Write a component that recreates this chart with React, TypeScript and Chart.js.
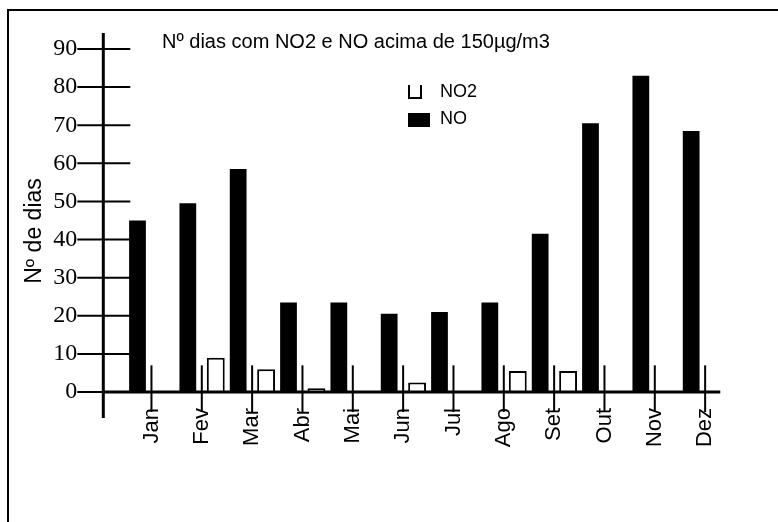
import { useEffect, useRef } from 'react';
import { Chart, registerables } from 'chart.js';

Chart.register(...registerables);

const months = ['Jan', 'Fev', 'Mar', 'Abr', 'Mai', 'Jun', 'Jul', 'Ago', 'Set', 'Out', 'Nov', 'Dez'];
const noDays = [45, 49.5, 58.5, 23.5, 23.5, 20.5, 21, 23.5, 41.5, 70.5, 83, 68.5];
const no2Days = [0, 9, 6, 1, 0, 2.5, 0, 5.5, 5.5, 0, 0, 0];
const yTickValues = [0, 10, 20, 30, 40, 50, 60, 70, 80, 90];
const chartTitle = 'Nº dias com NO2 e NO acima de 150µg/m3';
const yAxisTitle = 'Nº de dias';

const SANS = '"Liberation Sans", Arial, Helvetica, sans-serif';
const SERIF = '"Liberation Serif", "Times New Roman", serif';

const decorPlugin = {
  id: 'decor',
  afterDatasetsDraw(chart: any) {
    const { ctx, chartArea } = chart;
    const x = chart.scales.x;
    const y = chart.scales.y;
    ctx.save();
    ctx.strokeStyle = '#000';
    ctx.fillStyle = '#000';
    ctx.lineCap = 'butt';

    // outer frame (runs off the page at right and bottom)
    ctx.lineWidth = 2;
    ctx.beginPath();
    ctx.moveTo(8, 540);
    ctx.lineTo(8, 10);
    ctx.lineTo(800, 10);
    ctx.stroke();

    const axisX = chartArea.left - 23;
    const y0 = y.getPixelForValue(0);

    // y axis line
    ctx.lineWidth = 3;
    ctx.beginPath();
    ctx.moveTo(axisX, y.getPixelForValue(90) - 16);
    ctx.lineTo(axisX, y0 + 26);
    ctx.stroke();

    // x axis line
    ctx.beginPath();
    ctx.moveTo(axisX, y0);
    ctx.lineTo(chartArea.right - 10, y0);
    ctx.stroke();

    // y ticks crossing the axis
    ctx.lineWidth = 2;
    yTickValues.forEach((v) => {
      const py = y.getPixelForValue(v);
      ctx.beginPath();
      ctx.moveTo(axisX - 26, py);
      ctx.lineTo(axisX + 27, py);
      ctx.stroke();
    });

    // x ticks crossing the axis
    const tTop = y.getPixelForValue(7);
    months.forEach((_, i) => {
      const px = x.getPixelForValue(i);
      ctx.beginPath();
      ctx.moveTo(px, tTop);
      ctx.lineTo(px, y0 + 20);
      ctx.stroke();
    });

    // title
    ctx.font = `20px ${SANS}`;
    ctx.textAlign = 'left';
    ctx.textBaseline = 'middle';
    ctx.fillText(chartTitle, 162, 42);

    // y axis title
    ctx.save();
    ctx.translate(35, 231);
    ctx.rotate(-Math.PI / 2);
    ctx.textAlign = 'center';
    ctx.textBaseline = 'middle';
    ctx.font = `23px ${SANS}`;
    ctx.fillText(yAxisTitle, 0, 0);
    ctx.restore();

    // legend
    const ds = chart.data.datasets;
    const no2 = ds[1];
    const no = ds[0];
    ctx.lineWidth = 2;
    ctx.beginPath();
    ctx.moveTo(409, 85);
    ctx.lineTo(409, 98);
    ctx.lineTo(421, 98);
    ctx.lineTo(421, 85);
    ctx.stroke();
    ctx.fillStyle = no.backgroundColor;
    ctx.fillRect(408, 113, 22, 14);
    ctx.fillStyle = '#000';
    ctx.font = `18px ${SANS}`;
    ctx.textAlign = 'left';
    ctx.textBaseline = 'middle';
    ctx.fillText(no2.label, 440, 92);
    ctx.fillText(no.label, 440, 119);

    ctx.restore();
  },
};

export default function App() {
  const ref = useRef<HTMLCanvasElement | null>(null);

  useEffect(() => {
    document.body.style.margin = '0';
    document.body.style.overflow = 'hidden';
    const canvas = ref.current;
    if (!canvas) return;
    const chart = new Chart(canvas, {
      type: 'bar',
      data: {
        labels: months,
        datasets: [
          {
            label: 'NO',
            data: noDays,
            backgroundColor: '#000',
            borderColor: '#000',
            borderWidth: 0,
            categoryPercentage: 1.11,
            barPercentage: 0.6,
          },
          {
            label: 'NO2',
            data: no2Days,
            backgroundColor: '#fff',
            borderColor: '#000',
            borderWidth: 2,
            categoryPercentage: 1.11,
            barPercentage: 0.64,
          },
        ],
      },
      options: {
        animation: false,
        responsive: false,
        devicePixelRatio: 1,
        layout: { padding: { left: 18, top: 49, right: 47.7, bottom: 0 } },
        plugins: {
          legend: { display: false },
          title: { display: false },
          tooltip: { enabled: false },
        },
        scales: {
          x: {
            type: 'category',
            offset: true,
            grid: { display: false, drawTicks: false },
            border: { display: false },
            ticks: {
              autoSkip: false,
              minRotation: 90,
              maxRotation: 90,
              padding: 16,
              color: '#000',
              font: { family: SANS, size: 22 },
            },
            afterFit: (s: any) => {
              s.height = 130;
            },
          },
          y: {
            min: 0,
            max: 90,
            grid: { display: false, drawTicks: false },
            border: { display: false },
            ticks: {
              stepSize: 10,
              padding: 49,
              color: '#000',
              font: { family: SERIF, size: 24 },
            },
            afterFit: (s: any) => {
              s.width = 108.3;
              s.paddingTop = 0;
              s.paddingBottom = 0;
            },
          },
        },
      },
      plugins: [decorPlugin],
    });
    return () => chart.destroy();
  }, []);

  return (
    <div style={{ width: 778, height: 522, background: '#fff' }}>
      <canvas ref={ref} width={778} height={522} style={{ display: 'block' }} />
    </div>
  );
}
